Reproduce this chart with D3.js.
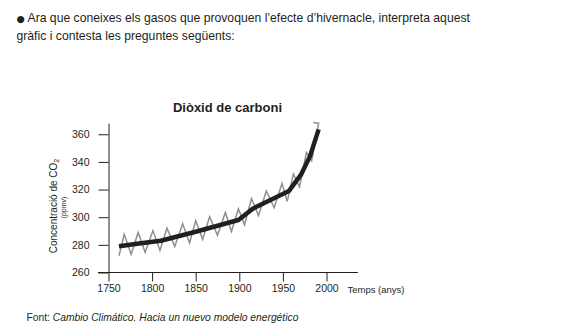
<!DOCTYPE html>
<html><head><meta charset="utf-8">
<script src="https://cdn.jsdelivr.net/npm/d3@7"></script>
<style>
html,body{margin:0;padding:0;background:#fff;}
svg{display:block;font-family:"Liberation Sans",Arial,Helvetica,sans-serif;}
</style></head>
<body>
<svg id="chart" width="566" height="329"></svg>
<script>
// ---- data ----
const yTicks = [260, 280, 300, 320, 340, 360];
const xTicks = [1750, 1800, 1850, 1900, 1950, 2000];
// smoothed trend (thick black)
const trendYears  = [1762, 1785, 1810, 1850, 1899, 1915, 1931, 1957, 1971, 1981, 1991];
const trendValues = [279, 281, 283, 289.5, 298, 306, 311, 319, 331, 344, 363.5];
// measured fluctuating series (grey zigzag)
const rawYears  = [1762, 1768, 1776, 1784, 1792, 1801, 1809, 1817, 1826, 1835, 1843, 1850, 1858, 1866, 1875, 1884, 1891, 1899, 1906, 1914, 1922, 1931, 1940, 1949, 1955, 1962, 1969, 1977, 1983, 1991, 1985];
const rawValues = [272, 287.6, 273.2, 289, 274.6, 290.3, 276, 292, 278.9, 295.3, 281.4, 297.5, 284, 300.4, 286.9, 303.4, 289.6, 306, 294.5, 313.5, 301.2, 319, 306.8, 324.5, 311.4, 331.3, 322, 346.8, 340.8, 368, 368.5];

const titleText = "Diòxid de carboni";
const yLabel = "Concentració de CO";
const xLabel = "Temps (anys)";

// ---- scales ----
const svg = d3.select("#chart");
const x = d3.scaleLinear().domain([1750, 2000]).range([108.5, 326.5]);
const y = d3.scaleLinear().domain([260, 368]).range([272.5, 123.2]);
const ink = "#231f20";

// intro text
const intro = svg.append("text").attr("font-size", 12.2).attr("fill", ink);
intro.append("tspan").attr("x", 16.5).attr("y", 21.5).attr("font-size", 9.5).attr("font-family", "DejaVu Sans").text("●");
intro.append("tspan").attr("x", 27.5).attr("y", 22)
  .text("Ara que coneixes els gasos que provoquen l’efecte d’hivernacle, interpreta aquest");
intro.append("tspan").attr("x", 16.5).attr("y", 39.5)
  .text("gràfic i contesta les preguntes següents:");

// title
svg.append("text").attr("x", 227.5).attr("y", 112).attr("text-anchor", "middle")
  .attr("font-size", 13).attr("font-weight", "bold").attr("fill", ink).text(titleText);

// y axis
const yAxis = svg.append("g").attr("transform", `translate(${x(1750)},0)`)
  .call(d3.axisLeft(y).tickValues(yTicks).tickSize(10).tickPadding(9).tickSizeOuter(0));
yAxis.selectAll("text").attr("font-size", 10.5).attr("font-family", "Liberation Sans, Arial, sans-serif").attr("fill", ink);
yAxis.selectAll("line,path").attr("stroke", ink);

// x axis
const xAxis = svg.append("g").attr("transform", `translate(0,${y(260)})`)
  .call(d3.axisBottom(x).tickValues(xTicks).tickFormat(d3.format("d")).tickSize(9).tickPadding(3).tickSizeOuter(0));
xAxis.select(".domain").remove();
xAxis.append("line").attr("x1", x(1738)).attr("x2", x(2036)).attr("stroke", ink);
xAxis.selectAll("text").attr("font-size", 10.5).attr("font-family", "Liberation Sans, Arial, sans-serif").attr("fill", ink);
xAxis.selectAll(".tick line").attr("stroke", ink);

svg.append("text").attr("x", 347.5).attr("y", 293).attr("font-size", 9.5).attr("fill", ink).text(xLabel);

// y label
const yl = svg.append("text").attr("transform", `translate(56.5,206) rotate(-90)`)
  .attr("text-anchor", "middle").attr("font-size", 10).attr("fill", ink);
yl.append("tspan").text(yLabel);
yl.append("tspan").attr("font-size", 7).attr("dy", 2).text("2");
svg.append("text").attr("transform", `translate(66,207.5) rotate(-90)`)
  .attr("text-anchor", "middle").attr("font-size", 7).attr("fill", ink).text("(ppmv)");

// lines
const rawData = rawYears.map((d, i) => [d, rawValues[i]]);
const trendData = trendYears.map((d, i) => [d, trendValues[i]]);
const line = d3.line().x(d => x(d[0])).y(d => y(d[1]));
svg.append("path").datum(rawData).attr("d", line).attr("fill", "none")
  .attr("stroke", "#8f8f8f").attr("stroke-width", 1.5).attr("stroke-linejoin", "miter");
svg.append("path").datum(trendData).attr("d", line).attr("fill", "none")
  .attr("stroke", ink).attr("stroke-width", 4.5).attr("stroke-linejoin", "round").attr("stroke-linecap", "butt");

// source
const src = svg.append("text").attr("x", 26.5).attr("y", 320.5).attr("font-size", 10.3).attr("fill", ink);
src.append("tspan").text("Font: ");
src.append("tspan").attr("font-style", "italic").text("Cambio Climático. Hacia un nuevo modelo energético");
</script>
</body></html>
